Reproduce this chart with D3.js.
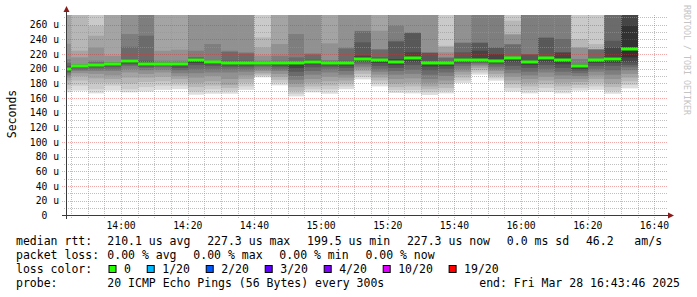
<!DOCTYPE html>
<html>
<head>
<meta charset="utf-8">
<script src="https://cdn.jsdelivr.net/npm/d3@7"></script>
<style>
  html, body { margin: 0; padding: 0; background: #fff; }
  svg { display: block; font-family: "DejaVu Sans Mono", monospace; }
  text { white-space: pre; }
</style>
</head>
<body>
<svg id="chart" width="697" height="297"></svg>
<script>
// ── Data ────────────────────────────────────────────────────
const START      = Date.UTC(2025, 2, 28, 13, 43, 46);
const END        = Date.UTC(2025, 2, 28, 16, 43, 46);
const FIRST_STEP = Date.UTC(2025, 2, 28, 13, 45, 0);   // end of first 300s step
const STEP_MS    = 300e3;

// median rtt per step (µs)
const medians = [
  199.5, 203.3, 205.1, 206.9, 210.1, 206.0, 206.9, 206.4, 211.4, 208.7,
  207.4, 207.8, 208.2, 207.4, 207.4, 209.6, 207.8, 207.4, 213.7, 211.9,
  209.2, 214.2, 207.8, 207.8, 212.4, 212.4, 210.1, 214.6, 209.2, 214.2,
  211.9, 203.8, 211.9, 213.3, 227.3
];

// the 10 fastest pings of each step, ascending (µs)
const lowPings = [
  [168, 172, 178, 184, 188, 191, 194, 196, 198, 199],
  [170.2, 177, 184, 190, 194, 197, 199, 201, 202, 203],
  [166.5, 172, 181, 187, 193, 197, 200, 202, 203.5, 204.5],
  [170.2, 177, 181, 186, 191, 197, 200, 203, 205, 206.3],
  [167.9, 172, 180, 188, 195, 200, 204, 206, 208, 209.5],
  [169, 175, 182, 188, 193, 198, 201, 203, 204.5, 205.5],
  [171.3, 177, 183, 189, 195, 199, 202, 204, 205.5, 206.5],
  [172.2, 177, 181, 186, 190, 194, 198, 201, 204, 205.5],
  [164.7, 169, 175, 181, 188, 194, 200, 205, 208, 210],
  [166, 172, 177, 183, 190, 195, 200, 204, 206.5, 208],
  [166, 170, 174, 178, 186, 195, 200, 203, 205.5, 206.8],
  [171.3, 176, 181, 186, 191, 196, 200, 203, 205.5, 207],
  [188.3, 190, 192, 194, 197, 200, 203, 205, 206.5, 207.7],
  [177.4, 181, 185, 189, 193, 197, 200, 203, 205, 206.5],
  [162.4, 166, 170, 175, 180, 185, 190, 196, 201, 205],
  [167.9, 172, 176, 181, 186, 192, 197, 202, 206, 208],
  [166, 172, 177, 183, 189, 195, 200, 203, 205.5, 207],
  [172.2, 176, 180, 184, 188, 192, 197, 201, 204.5, 206.5],
  [185.6, 189, 193, 197, 200, 203, 206, 209, 211, 212.8],
  [176, 180, 184, 188, 192, 196, 200, 204, 208, 210.5],
  [167, 171, 175, 180, 186, 192, 197, 201, 205, 207.5],
  [166.5, 171, 176, 181, 187, 193, 199, 205, 209, 212.5],
  [164.3, 168, 172, 176, 181, 186, 192, 198, 203, 206],
  [166.5, 170, 174, 179, 184, 190, 195, 200, 204, 206.5],
  [180.6, 184, 188, 192, 196, 200, 204, 207, 209.5, 211.5],
  [192, 195, 198, 201, 203.5, 205.5, 207.5, 209, 210.5, 211.7],
  [183.8, 187, 190, 193, 197, 200, 203, 206, 208, 209.3],
  [169, 174, 179, 184, 189, 194, 199, 204, 209, 212.5],
  [166.5, 171, 176, 181, 186, 191, 196, 201, 205, 207.5],
  [168.5, 174, 179, 184, 189, 195, 200, 205, 209, 212],
  [166.5, 171, 176, 181, 186, 191, 196, 201, 206, 209.5],
  [170.2, 174, 178, 182, 186, 190, 194, 197.5, 200, 202],
  [171.3, 176, 181, 186, 191, 196, 200, 204, 208, 210.5],
  [166, 170, 175, 180, 186, 192, 198, 204, 208, 211],
  [173.3, 178, 183, 188, 193, 198, 202, 205, 208.7, 215.5]
];

// the 10 slowest pings of each step, ascending (µs); many run off the top
const highPings = [
  [200.5, 202, 204, 208, 213, 234, 276, 282, 290, 300],
  [203.6, 204, 204.5, 205.5, 206.5, 215.5, 224.6, 280, 290, 300],
  [205.5, 206, 207, 209, 211, 229, 245, 258.6, 285, 300],
  [207.3, 207.8, 208.3, 208.7, 209, 217.8, 280, 288, 295, 300],
  [211, 212, 213.3, 230, 247.3, 280, 285, 290, 295, 300],
  [207, 208, 211, 245, 280, 283, 287, 291, 295, 300],
  [207.2, 207.6, 208, 209, 211, 224.6, 280, 288, 295, 300],
  [206.8, 207.2, 208, 209, 211, 226, 280, 288, 295, 300],
  [212, 212.5, 215, 215.5, 224.6, 280, 285, 290, 295, 300],
  [209.2, 209.8, 210.5, 211, 233.7, 280, 285, 290, 295, 300],
  [208, 209.5, 211, 223, 224.6, 280, 285, 290, 295, 300],
  [208.3, 209.5, 211, 221, 222.4, 280, 285, 290, 295, 300],
  [208.6, 209, 209.5, 210, 211, 218, 229, 242.8, 285, 300],
  [207.9, 208.5, 209.5, 211, 217.8, 233.7, 280, 288, 295, 300],
  [208, 208.8, 210, 215.5, 247.3, 280, 285, 290, 295, 300],
  [210, 211, 212.3, 219.5, 221, 280, 285, 290, 295, 300],
  [208.3, 209, 210, 211, 211.5, 234.6, 280, 288, 295, 300],
  [208, 209.5, 211, 227.5, 229.2, 280, 285, 290, 295, 300],
  [215, 217.8, 236, 251, 251.8, 280, 285, 290, 295, 300],
  [212.4, 213, 215.5, 226, 226.9, 251.8, 280, 288, 295, 300],
  [211, 213.3, 237, 238.2, 258.6, 280, 285, 290, 295, 300],
  [215.5, 222.4, 248.5, 249, 249.5, 280, 285, 290, 295, 300],
  [208.3, 209, 221.5, 222, 222.4, 280, 285, 290, 295, 300],
  [208.3, 209, 210, 215, 215.5, 222.4, 230, 231.4, 285, 300],
  [213, 214, 222.4, 235, 236, 280, 285, 290, 295, 300],
  [213.5, 224.6, 235, 236, 280, 283, 287, 291, 295, 300],
  [211.5, 220.1, 228.5, 229.2, 280, 283, 287, 291, 295, 300],
  [215, 215.3, 215.8, 233, 233.7, 246.5, 247.3, 265.5, 285, 300],
  [210, 211, 219.5, 220.1, 280, 283, 287, 291, 295, 300],
  [215, 215.5, 242, 242.8, 280, 283, 287, 291, 295, 300],
  [213, 222, 222.4, 240.5, 280, 283, 287, 291, 295, 300],
  [204.3, 204.8, 205.5, 206.5, 213.3, 228.5, 229.2, 240.5, 285, 300],
  [212.3, 212.8, 213.3, 226, 226.2, 226.5, 226.9, 233.7, 285, 300],
  [215.5, 229.2, 238.2, 280, 282, 285, 288, 291, 295, 300],
  [258.6, 280, 282, 285, 288, 290, 292, 295, 298, 300]
];

const yTickValues   = [0, 20, 40, 60, 80, 100, 120, 140, 160, 180, 200, 220, 240, 260];
const medianLabel   = 'median rtt:';
const medianStats   = ['210.1 us avg', '227.3 us max', '199.5 us min', '227.3 us now', '0.0 ms sd', '46.2   am/s'];
const lossLabel     = 'packet loss:';
const lossStats     = ['0.00 % avg', '0.00 % max', '0.00 % min', '0.00 % now'];
const lossColorLabel = 'loss color:';
const lossNames     = ['0', '1/20', '2/20', '3/20', '4/20', '10/20', '19/20'];
const lossColors    = ['#26ff00', '#00b8ff', '#0059ff', '#5e00ff', '#7e00ff', '#dd00ff', '#ff0000'];
const probeLabel    = 'probe:';
const probeText     = '20 ICMP Echo Pings (56 Bytes) every 300s';
const endText       = 'end: Fri Mar 28 16:43:46 2025';

// ── Layout ────────────────────────────────────────────────
const svg = d3.select('#chart');
const X0 = 67, X1 = 667, Y0 = 215.5, YTOP = 15;
const Y_MAX = 273.3;

const x = d3.scaleUtc().domain([START, END]).range([X0, X1]);
const y = d3.scaleLinear().domain([0, Y_MAX]).range([Y0, YTOP]);

svg.append('defs').append('clipPath').attr('id', 'plot-clip')
  .append('rect').attr('x', X0).attr('y', YTOP).attr('width', X1 - X0).attr('height', Y0 - YTOP);

// ── Smoke ──────────────────────────────────────────────────
const cols = medians.map((m, k) => {
  const tEnd = FIRST_STEP + k * STEP_MS;
  const tStart = Math.max(START, tEnd - STEP_MS);
  return { m, k, x0: Math.round(x(tStart)), x1: Math.round(x(tEnd)) };
});

const smoke = svg.append('g').attr('clip-path', 'url(#plot-clip)');
cols.forEach(c => {
  const lo = lowPings[c.k], hi = highPings[c.k];
  for (let i = 0; i < 10; i++) {
    const v = Math.round(190 / 10 * (10 - (i + 1))) + 50;   // smokeping shade
    const top = Math.max(y(hi[9 - i]), YTOP - 2);
    smoke.append('rect')
      .attr('x', c.x0).attr('width', c.x1 - c.x0)
      .attr('y', top).attr('height', y(lo[i]) - top)
      .attr('fill', d3.rgb(v, v, v));
  }
});

// ── Grid (drawn over the smoke, like rrdtool) ──────────────
const grid = svg.append('g').attr('stroke-dasharray', '1,1').attr('stroke-width', 1);
const minorCol = 'rgba(150,150,150,0.6)', majorCol = 'rgba(222,48,48,0.42)';

d3.range(10, 280, 10).forEach(v => {
  const major = v % 20 === 0;
  const yy = Math.round(y(v)) + 0.5;
  if (yy < YTOP - 1) return;
  grid.append('line')
    .attr('x1', major ? 62 : 64).attr('x2', X1 + 1)
    .attr('y1', yy).attr('y2', yy)
    .attr('stroke', major ? majorCol : minorCol);
});

x.ticks(d3.utcMinute.every(5)).forEach(t => {
  const major = t.getUTCMinutes() % 20 === 0;
  const xx = Math.round(x(t)) + 0.5;
  grid.append('line')
    .attr('x1', xx).attr('x2', xx)
    .attr('y1', major ? 220 : 218).attr('y2', YTOP - 1)
    .attr('stroke', major ? majorCol : minorCol);
});

// ── Median line ────────────────────────────────────────────
svg.append('g').selectAll('rect')
  .data(cols)
  .join('rect')
    .attr('x', d => d.x0).attr('width', d => d.x1 - d.x0)
    .attr('y', d => Math.round(y(d.m)) - 1.5).attr('height', 3)
    .attr('fill', lossColors[0]);

// ── Axes ───────────────────────────────────────────────────
const axisCol = '#3a3a3a', arrowCol = '#8b1a1a';
svg.append('line').attr('x1', 62).attr('x2', 669).attr('y1', Y0).attr('y2', Y0)
  .attr('stroke', axisCol).attr('stroke-width', 1);
svg.append('line').attr('x1', X0 - 0.5).attr('x2', X0 - 0.5).attr('y1', 219).attr('y2', 11)
  .attr('stroke', axisCol).attr('stroke-width', 1);
svg.append('path').attr('d', `M668,${Y0 - 3}L674,${Y0}L668,${Y0 + 3}Z`).attr('fill', arrowCol);
svg.append('path').attr('d', `M${X0 - 3.5},12L${X0 - 0.5},6L${X0 + 2.5},12Z`).attr('fill', arrowCol);

const axisFont = 9.7;
svg.append('g').selectAll('text')
  .data(yTickValues)
  .join('text')
    .attr('x', 59).attr('y', d => y(d)).attr('dy', '0.36em')
    .attr('text-anchor', 'end').attr('font-size', axisFont).attr('fill', '#000')
    .text(d => d === 0 ? '0  ' : `${d} u`);

svg.append('g').selectAll('text')
  .data(x.ticks(d3.utcMinute.every(20)))
  .join('text')
    .attr('x', d => x(d)).attr('y', 228.5)
    .attr('text-anchor', 'middle').attr('font-size', axisFont).attr('fill', '#000')
    .text(d3.utcFormat('%H:%M'));

svg.append('text')
  .attr('transform', 'translate(16,114) rotate(-90)')
  .attr('text-anchor', 'middle').attr('font-size', 11.5).attr('fill', '#000')
  .text('Seconds');

svg.append('text')
  .attr('transform', 'translate(684,5) rotate(90)')
  .attr('font-size', 8.3).attr('fill', '#c4c4c4')
  .text('RRDTOOL / TOBI OETIKER');

// ── Legend ─────────────────────────────────────────────────
const LF = 11.5, CW = LF * 0.602, GAP = 16.8, COL2 = 107.3;
const legend = svg.append('g').attr('font-size', LF).attr('fill', '#000');

function flowRow(label, items, baseline) {
  legend.append('text').attr('x', 16).attr('y', baseline).text(label);
  let cx = COL2;
  items.forEach(s => {
    legend.append('text').attr('x', cx).attr('y', baseline).text(s);
    cx += s.length * CW + GAP;
  });
}
flowRow(medianLabel, medianStats, 245);
flowRow(lossLabel, lossStats, 259);

legend.append('text').attr('x', 16).attr('y', 273).text(lossColorLabel);
let sx = 108.5;
lossNames.forEach((name, i) => {
  legend.append('rect')
    .attr('x', sx + 0.5).attr('y', 265.5).attr('width', 7).attr('height', 7)
    .attr('fill', lossColors[i]).attr('stroke', '#000').attr('stroke-width', 1);
  legend.append('text').attr('x', sx + 15.5).attr('y', 273).text(name);
  sx += 15.5 + name.length * CW + 15.8;
});

legend.append('text').attr('x', 16).attr('y', 286.5).text(probeLabel);
legend.append('text').attr('x', COL2).attr('y', 286.5).text(probeText);
legend.append('text').attr('x', 680).attr('y', 286.5).attr('text-anchor', 'end').text(endText);
</script>
</body>
</html>
